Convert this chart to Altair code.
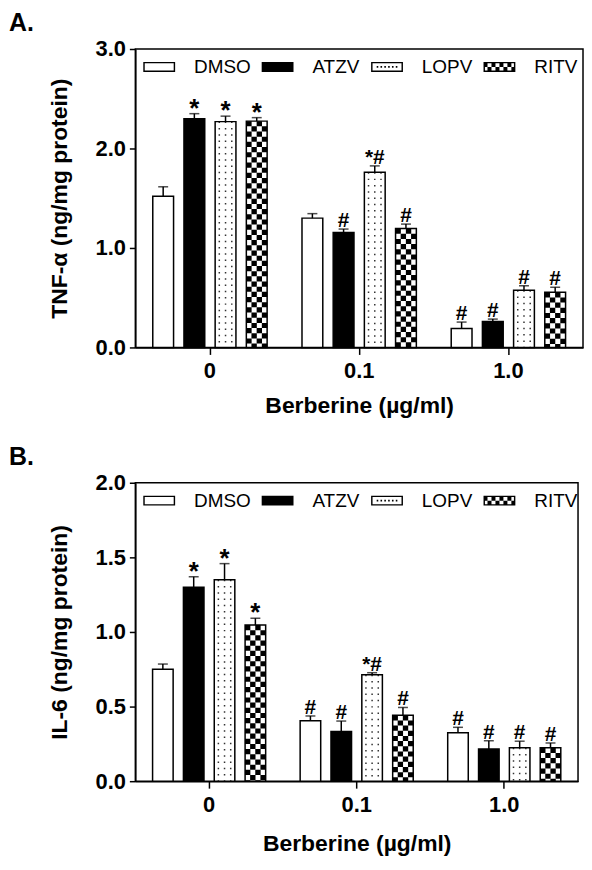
import altair as alt
import pandas as pd

F = "Liberation Sans"

series = ["DMSO", "ATZV", "LOPV", "RITV"]
groups = ["0", "0.1", "1.0"]

# Panel A: TNF-alpha (ng/mg protein), one list per treatment (groups 0, 0.1, 1.0)
tnf_dmso = [1.52, 1.30, 0.19]
tnf_atzv = [2.30, 1.155, 0.26]
tnf_lopv = [2.27, 1.76, 0.575]
tnf_ritv = [2.275, 1.195, 0.555]
tnf_dmso_err = [0.095, 0.045, 0.065]
tnf_atzv_err = [0.05, 0.035, 0.025]
tnf_lopv_err = [0.055, 0.065, 0.045]
tnf_ritv_err = [0.035, 0.045, 0.05]
tnf_dmso_sig = ["", "", "#"]
tnf_atzv_sig = ["*", "#", "#"]
tnf_lopv_sig = ["*", "*#", "#"]
tnf_ritv_sig = ["*", "#", "#"]

# Panel B: IL-6 (ng/mg protein)
il6_dmso = [0.75, 0.405, 0.325]
il6_atzv = [1.30, 0.333, 0.216]
il6_lopv = [1.35, 0.713, 0.224]
il6_ritv = [1.047, 0.442, 0.224]
il6_dmso_err = [0.035, 0.032, 0.036]
il6_atzv_err = [0.07, 0.07, 0.055]
il6_lopv_err = [0.108, 0.014, 0.044]
il6_ritv_err = [0.045, 0.052, 0.032]
il6_dmso_sig = ["", "#", "#"]
il6_atzv_sig = ["*", "#", "#"]
il6_lopv_sig = ["*", "*#", "#"]
il6_ritv_sig = ["*", "#", "#"]

tnf_ticks = [0, 1, 2, 3]
il6_ticks = [0, 0.5, 1.0, 1.5, 2.0]


def build(vals, errs, sigs):
    rows = []
    for s, v, e, m in zip(series, vals, errs, sigs):
        for g, vi, ei, mi in zip(groups, v, e, m):
            rows.append(dict(group=g, series=s, value=vi, err=ei, top=vi + ei, label=mi, base=0.0))
    return pd.DataFrame(rows)


def checker_df(df):
    rows = []
    for _, r in df[df.series == "RITV"].iterrows():
        for k in range(4):
            rows.append(dict(group=r.group, slot=f"RITV_{k}", parity=k % 2, value=r.value, base=0.0))
    return pd.DataFrame(rows)


def dots_df(df):
    rows = []
    for _, r in df[df.series == "LOPV"].iterrows():
        for k in range(3):
            rows.append(dict(group=r.group, slot=f"LOPV_d{k}", value=r.value, base=0.0))
    return pd.DataFrame(rows)


# legend symbol paths (unit box: x in [-1,1], y in [-0.3125,0.3125])
def r4(v):
    return round(v, 4)


H = 0.3125
T = 0.09
outer = f"M-1,{-H}H1V{H}H-1Z"
inner = f"M{r4(-1 + T)},{r4(-H + T)}V{r4(H - T)}H{r4(1 - T)}V{r4(-H + T)}Z"
ring = outer + inner
dot_path = ring
for cx in [-0.6, -0.36, -0.12, 0.12, 0.36, 0.6]:
    d = 0.1
    dot_path += f"M{r4(cx - d / 2)},{r4(-d / 2)}h{d}v{d}h{-d}Z"
chk_path = ring
for row, y0 in enumerate([-H, 0.0]):
    for col in range(8):
        if (col + row) % 2 == 0:
            x0 = -1 + col * 0.25
            chk_path += f"M{r4(x0)},{r4(y0)}h0.25v{H}h-0.25Z"
legend_paths = [ring, outer, dot_path, chk_path]

x_scale = alt.Scale(type="band", domain=groups, paddingInner=0.164, paddingOuter=0.082)
off_scale = alt.Scale(type="band", domain=series, paddingInner=1 / 3, paddingOuter=1 / 6)
chk_scale = alt.Scale(type="band", domain=[f"{s}_{x}" for s in series for x in ["L", "0", "1", "2", "3", "R"]],
                      paddingInner=0, paddingOuter=0)
dot_scale = alt.Scale(type="band", domain=[f"{s}_{x}" for s in series for x in ["L", "d0", "d1", "d2", "R"]],
                      paddingInner=0, paddingOuter=0)


def panel(df, letter, ytitle, ydomain, yticks, width, xtitle_y):
    xa = alt.X("group:N", scale=x_scale, sort=groups,
               axis=alt.Axis(title="Berberine (µg/ml)", labelAngle=0, tickSize=7, labelPadding=6,
                             titleY=xtitle_y, titleBaseline="alphabetic"))
    ya = alt.Y("value:Q", scale=alt.Scale(domain=ydomain, nice=False, zero=True),
               axis=alt.Axis(title=ytitle, values=yticks, format=".1f", tickSize=6, labelPadding=4,
                             titleX=-76, titleY=150, titleBaseline="middle", titleAlign="center"))
    xo = alt.XOffset("series:N", scale=off_scale, sort=series)

    bars = alt.Chart(df).mark_bar(strokeWidth=0).encode(
        x=xa, xOffset=xo, y=ya,
        fill=alt.Fill("series:N", scale=alt.Scale(domain=series, range=["white", "black", "white", "white"]),
                      legend=None))
    cdf = checker_df(df)
    chk_even = alt.Chart(cdf).transform_filter("datum.parity == 0").mark_rule(
        strokeWidth=5.4, strokeDash=[5.2, 5.2], strokeDashOffset=0, color="black").encode(
        x=xa, xOffset=alt.XOffset("slot:N", scale=chk_scale), y=ya, y2="base:Q")
    chk_odd = alt.Chart(cdf).transform_filter("datum.parity == 1").mark_rule(
        strokeWidth=5.4, strokeDash=[5.2, 5.2], strokeDashOffset=5.2, color="black").encode(
        x=xa, xOffset=alt.XOffset("slot:N", scale=chk_scale), y=ya, y2="base:Q")
    dots = alt.Chart(dots_df(df)).mark_rule(
        strokeWidth=1.5, strokeDash=[1.5, 4.8], color="#333333").encode(
        x=xa, xOffset=alt.XOffset("slot:N", scale=dot_scale), y=ya, y2="base:Q")
    outline = alt.Chart(df).mark_bar(fillOpacity=0, stroke="black", strokeWidth=1.5).encode(
        x=xa, xOffset=xo, y=ya)
    err = alt.Chart(df).mark_rule(strokeWidth=1.5, color="black").encode(
        x=xa, xOffset=xo, y=ya, y2="top:Q")
    cap = alt.Chart(df).mark_tick(orient="horizontal", size=10, thickness=1.5, color="black").encode(
        x=xa, xOffset=xo, y=alt.Y("top:Q"))
    star = alt.Chart(df).transform_filter("datum.label == '*'").mark_text(
        font=F, fontSize=26, fontWeight="bold", baseline="alphabetic", dy=3, color="black").encode(
        x=xa, xOffset=xo, y=alt.Y("top:Q"), text="label:N")
    txt = alt.Chart(df).transform_filter("datum.label != '*'").mark_text(
        font=F, fontSize=21, fontWeight="bold", baseline="alphabetic", dy=-2, color="black").encode(
        x=xa, xOffset=xo, y=alt.Y("top:Q"), text="label:N")
    leg = alt.Chart(df).mark_point(filled=True, opacity=0, color="black").encode(
        x=xa, xOffset=xo, y=ya,
        shape=alt.Shape("series:N", sort=series,
                        scale=alt.Scale(domain=series, range=legend_paths),
                        legend=alt.Legend(title=None, orient="none", legendX=8, legendY=2,
                                          direction="horizontal", symbolSize=1024,
                                          symbolStrokeWidth=0, symbolOpacity=1,
                                          symbolFillColor="black", labelFont=F, labelFontSize=19,
                                          labelColor="black", labelOffset=19, columnPadding=11,
                                          padding=0)))
    return alt.layer(bars, dots, chk_even, chk_odd, outline, err, cap, star, txt, leg).resolve_scale(
        xOffset="independent").properties(
        width=width, height=300,
        title=alt.Title(letter, anchor="start", frame="group", dx=-127, fontSize=25, font=F,
                        fontWeight="bold", color="black", offset=2))


dfA = build([tnf_dmso, tnf_atzv, tnf_lopv, tnf_ritv],
            [tnf_dmso_err, tnf_atzv_err, tnf_lopv_err, tnf_ritv_err],
            [tnf_dmso_sig, tnf_atzv_sig, tnf_lopv_sig, tnf_ritv_sig])
dfB = build([il6_dmso, il6_atzv, il6_lopv, il6_ritv],
            [il6_dmso_err, il6_atzv_err, il6_lopv_err, il6_ritv_err],
            [il6_dmso_sig, il6_atzv_sig, il6_lopv_sig, il6_ritv_sig])

pA = panel(dfA, "A.", "TNF-α (ng/mg protein)", [0, 3], tnf_ticks, 450, 65)
pB = panel(dfB, "B.", "IL-6 (ng/mg protein)", [0, 2], il6_ticks, 445, 70)

chart = alt.vconcat(pA, pB, spacing=26).resolve_scale(y="independent", shape="independent").resolve_legend(
    shape="independent").properties(padding=0).configure_view(
    stroke="black", strokeWidth=1.5).configure_axis(
    grid=False, domainColor="black", domainWidth=1.5, tickColor="black", tickWidth=1.5,
    labelFont=F, labelFontSize=22, labelFontWeight="bold", labelColor="black",
    titleFont=F, titleFontSize=23, titleFontWeight="bold", titleColor="black")

chart.save("out.html", embed_options={"renderer": "svg", "actions": False})
